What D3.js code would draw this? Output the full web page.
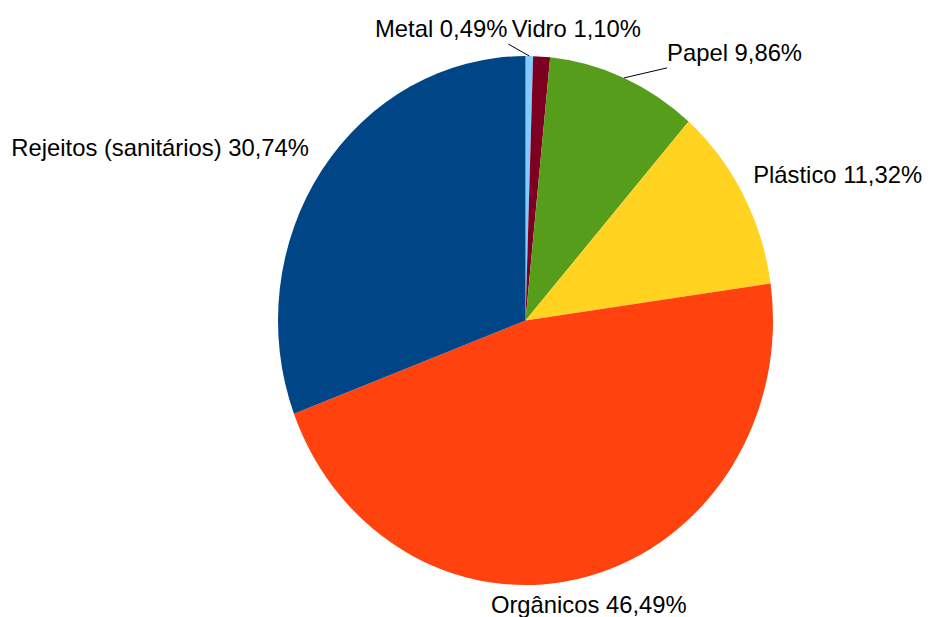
<!DOCTYPE html>
<html><head><meta charset="utf-8">
<script src="https://cdn.jsdelivr.net/npm/d3@7"></script>
<style>
html,body{margin:0;padding:0;background:#fff;}
svg text{font-family:"Liberation Sans",Arial,sans-serif;font-size:23.8px;fill:#000;}
</style></head>
<body><svg id="chart" width="930" height="617"></svg>
<script>
const categories = ["Metal", "Vidro", "Papel", "Plástico", "Orgânicos", "Rejeitos (sanitários)"];
const values = [0.49, 1.10, 9.86, 11.32, 46.49, 30.74];
const colors = ["#83caff", "#7e0021", "#579d1c", "#ffd320", "#ff420e", "#004586"];

const svg = d3.select("#chart");
const cx = 525.5, cy = 320.5, rx = 247.5, ry = 264.5;

const data = categories.map((c, i) => ({name: c, value: values[i], color: colors[i]}));
const pie = d3.pie().value(d => d.value).sort(null);
const arcs = pie(data);
const arc = d3.arc().innerRadius(0).outerRadius(ry);

const g = svg.append("g").attr("transform", `translate(${cx},${cy}) scale(${rx/ry},1)`);
g.selectAll("path").data(arcs).join("path")
  .attr("d", arc)
  .attr("fill", d => d.data.color);

const fmt = v => v.toFixed(2).replace(".", ",") + "%";
function edge(a, k = 1) { return [cx + rx * k * Math.sin(a), cy - ry * k * Math.cos(a)]; }

// label placement rules per slice (offsets from the slice's outer edge midpoint)
const place = [
  {dx: -22, dy: -19, anchor: "end", leader: true},     // Metal
  {dx: -30, dy: -20, anchor: "start", leader: false},  // Vidro
  {dx: 43, dy: -17, anchor: "start", leader: true},    // Papel
  {dx: 10, dy: -12, anchor: "start", leader: false},   // Plástico
  {dx: 2, dy: 36, anchor: "middle", leader: false},    // Orgânicos
  {dx: -13, dy: -14, anchor: "end", leader: false}     // Rejeitos
];

arcs.forEach((d, i) => {
  const mid = (d.startAngle + d.endAngle) / 2;
  const [px, py] = edge(mid);
  const p = place[i];
  const tx = px + p.dx, ty = py + p.dy;
  if (p.leader) {
    const lx = p.anchor === "end" ? tx + 1 : tx;
    svg.append("line")
      .attr("x1", px).attr("y1", py)
      .attr("x2", lx).attr("y2", ty + 7)
      .attr("stroke", "#000").attr("stroke-width", 1);
  }
  svg.append("text")
    .attr("x", tx).attr("y", ty)
    .attr("text-anchor", p.anchor)
    .text(d.data.name + " " + fmt(d.data.value));
});
</script></body></html>
